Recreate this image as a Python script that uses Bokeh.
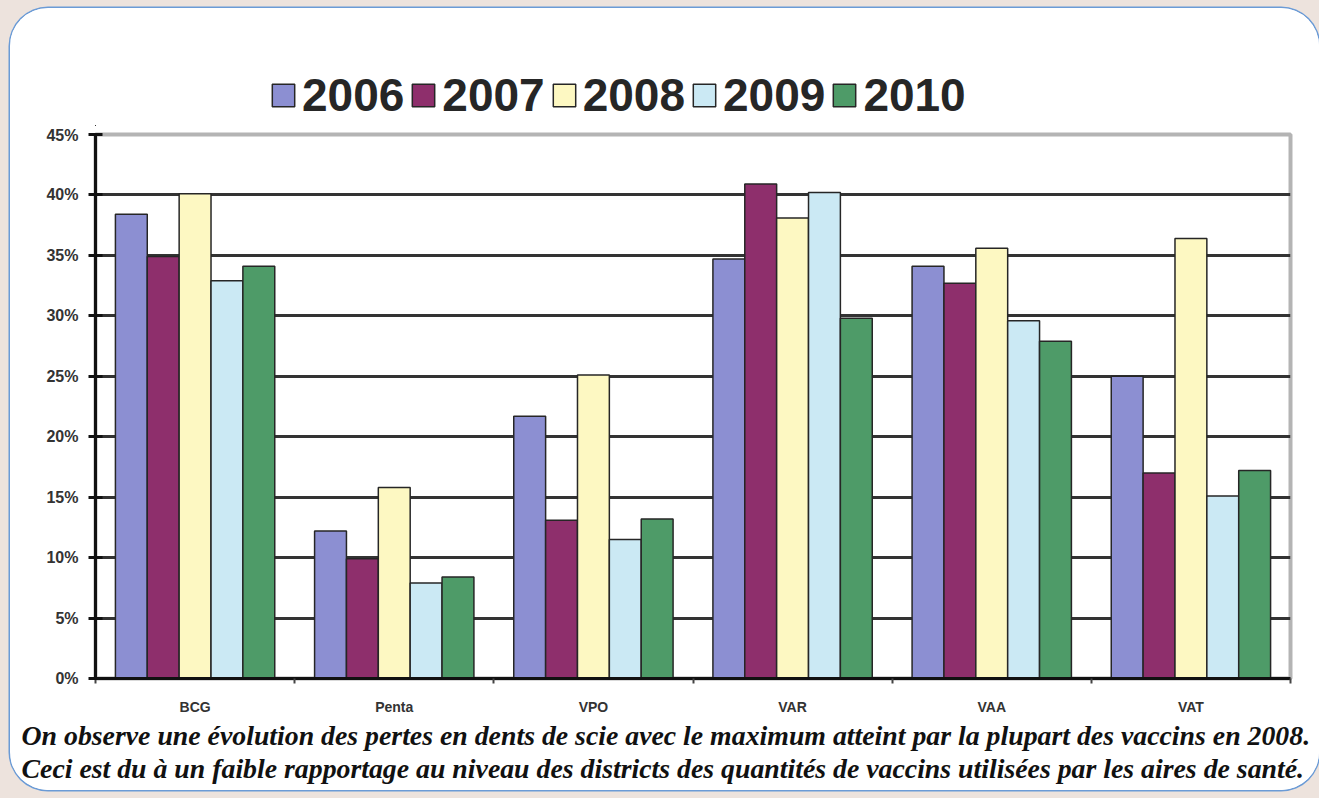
from bokeh.plotting import figure
from bokeh.layouts import column
from bokeh.models import (Range1d, FixedTicker, PrintfTickFormatter, Legend, LegendItem,
                          Title, ColumnDataSource)
from bokeh.transform import dodge
from bokeh.embed import file_html
from bokeh.resources import INLINE

# Vaccine wastage rate (%) by vaccine and year
categories = ["BCG", "Penta", "VPO", "VAR", "VAA", "VAT"]
years = ["2006", "2007", "2008", "2009", "2010"]
loss_2006 = [38.4, 12.2, 21.7, 34.7, 34.1, 25.0]
loss_2007 = [34.9, 9.9, 13.1, 40.9, 32.7, 17.0]
loss_2008 = [40.1, 15.8, 25.1, 38.1, 35.6, 36.4]
loss_2009 = [32.9, 7.9, 11.5, 40.2, 29.6, 15.1]
loss_2010 = [34.1, 8.4, 13.2, 29.8, 27.9, 17.2]
y_ticks = [0, 5, 10, 15, 20, 25, 30, 35, 40, 45]

caption_1 = ("On observe une évolution des pertes en dents de scie avec le maximum "
             "atteint par la plupart des vaccins en 2008.")
caption_2 = ("Ceci est du à un faible rapportage au niveau des districts des quantités "
             "de vaccins utilisées par les aires de santé.")

year_colors = ["#8c8fd2", "#8e2f6c", "#fdf8c2", "#cbe9f4", "#4e9b68"]
series = [loss_2006, loss_2007, loss_2008, loss_2009, loss_2010]

centers = [i + 0.5 for i in range(len(categories))]
src = ColumnDataSource(dict(x=centers, cat=categories,
                            **{"y" + y: s for y, s in zip(years, series)}))

bar_w = 0.16
bar_line = dict(line_color="#262626", line_width=1.5)

# ---- header strip carrying the year legend (its ranges show no bars) ----
head = figure(width=1309, height=118, output_backend="svg", toolbar_location=None,
              x_range=Range1d(100, 101), y_range=Range1d(100, 101),
              min_border=0, min_border_left=0, min_border_right=0,
              min_border_top=0, min_border_bottom=0,
              x_axis_location=None, y_axis_location=None)
head.grid.visible = False
head.outline_line_color = None
head.background_fill_color = "white"
head.border_fill_color = "white"
items = []
for j, (yr, col) in enumerate(zip(years, year_colors)):
    r = head.vbar(x=dodge("x", (j - 2) * bar_w), top="y" + yr, width=bar_w,
                  source=src, fill_color=col, **bar_line)
    items.append(LegendItem(label=yr, renderers=[r]))
legend = Legend(items=items, orientation="horizontal", location=(174, 4),
                padding=0, margin=0, spacing=5, label_standoff=5,
                glyph_width=28, glyph_height=28, border_line_color=None,
                background_fill_alpha=0, label_text_font="Liberation Sans",
                label_text_font_style="bold", label_text_font_size="46px",
                label_text_color="#262626")
head.add_layout(legend, "center")

# ---- bar chart ----
p = figure(width=1309, height=664, output_backend="svg", toolbar_location=None,
           x_range=Range1d(0, len(categories)), y_range=Range1d(0, 45),
           min_border_left=85, min_border_right=29, min_border_top=8,
           min_border_bottom=112)
p.border_fill_color = "white"
p.background_fill_color = "white"
p.outline_line_color = "#b4b4b4"
p.outline_line_width = 4

for j, (yr, col) in enumerate(zip(years, year_colors)):
    p.vbar(x=dodge("x", (j - 2) * bar_w), top="y" + yr, width=bar_w, source=src,
           fill_color=col, **bar_line)

# gridlines
p.xgrid.visible = False
p.ygrid.ticker = FixedTicker(ticks=y_ticks[1:-1])
p.ygrid.grid_line_color = "#333333"
p.ygrid.grid_line_width = 3

# y axis
p.yaxis.ticker = FixedTicker(ticks=y_ticks)
p.yaxis.formatter = PrintfTickFormatter(format="%d%%")
p.yaxis.axis_line_color = "#111111"
p.yaxis.axis_line_width = 3
p.yaxis.major_tick_line_color = "#111111"
p.yaxis.major_tick_line_width = 3
p.yaxis.major_tick_in = 7
p.yaxis.major_tick_out = 7
p.yaxis.minor_tick_line_color = None
p.yaxis.major_label_text_font = "Liberation Sans"
p.yaxis.major_label_text_font_style = "bold"
p.yaxis.major_label_text_font_size = "16px"
p.yaxis.major_label_text_color = "#333333"
p.yaxis.major_label_standoff = 10

# x axis: labels at group centres, ticks between groups
p.xaxis.ticker = FixedTicker(ticks=centers, minor_ticks=list(range(len(categories) + 1)))
p.xaxis.major_label_overrides = {c: name for c, name in zip(centers, categories)}
p.xaxis.axis_line_color = "#111111"
p.xaxis.axis_line_width = 3
p.xaxis.major_tick_in = 0
p.xaxis.major_tick_out = 0
p.xaxis.minor_tick_in = 0
p.xaxis.minor_tick_out = 5
p.xaxis.minor_tick_line_color = "#444444"
p.xaxis.minor_tick_line_width = 2
p.xaxis.major_label_text_font = "Liberation Sans"
p.xaxis.major_label_text_font_style = "bold"
p.xaxis.major_label_text_font_size = "14px"
p.xaxis.major_label_text_color = "#333333"
p.xaxis.major_label_standoff = 15

# two-line comment under the chart
for txt in (caption_1, caption_2):
    p.add_layout(Title(text=txt, align="left", offset=-74, standoff=0,
                       text_font="Liberation Serif", text_font_style="bold italic",
                       text_font_size="27.8px", text_color="#111111"), "below")

sheet = column(head, p, width=1309, height=782, margin=(8, 0, 0, 10),
               styles={"background-color": "white", "border-radius": "38px",
                       "overflow": "hidden", "box-shadow": "0 0 0 1.5px #6b9bd6"})
page = column(sheet, width=1319, height=798, styles={"background-color": "#ede3dd"})
open("out.html", "w").write(file_html(page, INLINE))
